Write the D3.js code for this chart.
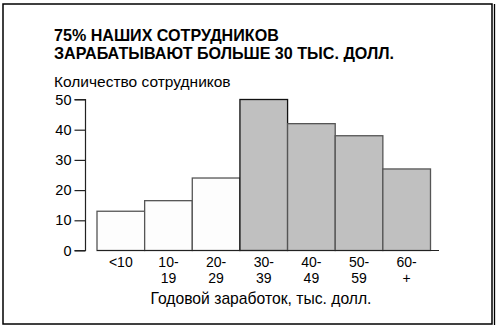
<!DOCTYPE html>
<html>
<head>
<meta charset="utf-8">
<script src="https://cdn.jsdelivr.net/npm/d3@7"></script>
<style>
  body { margin: 0; background: #fff; }
  svg text { font-family: "Liberation Sans", Arial, sans-serif; fill: #000; }
</style>
</head>
<body>
<svg id="chart" width="499" height="329"></svg>
<script>
// data
const categories = ["<10", "10-19", "20-29", "30-39", "40-49", "50-59", "60-+"]
const labelTop = ["<10", "10-", "20-", "30-", "40-", "50-", "60-"]
const labelBottom = ["", "19", "29", "39", "49", "59", "+"]
const counts = [13, 16.5, 24, 50, 42, 38, 27]
const highlighted = [false, false, false, true, true, true, true]
const yTicks = [0, 10, 20, 30, 40, 50]

const titleLines = ["75% НАШИХ СОТРУДНИКОВ", "ЗАРАБАТЫВАЮТ БОЛЬШЕ 30 ТЫС. ДОЛЛ."]
const yTitle = "Количество сотрудников"
const xTitle = "Годовой заработок, тыс. долл."

const svg = d3.select("#chart")

// frame
svg.append("rect")
  .attr("x", 3).attr("y", 4)
  .attr("width", 489).attr("height", 320)
  .attr("fill", "none").attr("stroke", "#000").attr("stroke-width", 1.5)
svg.append("line")
  .attr("x1", 494.5).attr("x2", 494.5).attr("y1", 4).attr("y2", 325)
  .attr("stroke", "#000").attr("stroke-width", 1.3)

// title
svg.append("text")
  .attr("font-size", 16.1).attr("font-weight", "bold")
  .selectAll("tspan").data(titleLines).join("tspan")
  .attr("x", 54).attr("y", (d, i) => 40.5 + i * 18.5)
  .text(d => d)

svg.append("text")
  .attr("x", 54).attr("y", 86.5)
  .attr("font-size", 15.5)
  .text(yTitle)

// scales
const x = d3.scaleBand().domain(categories).range([97, 430.5]).padding(0)
const y = d3.scaleLinear().domain([0, 50]).range([250.5, 99.5])

// y axis
const yAxis = d3.axisLeft(y).tickValues(yTicks).tickSize(11).tickPadding(3)
const gy = svg.append("g").attr("transform", "translate(85.5,0)").call(yAxis)
gy.select(".domain").attr("d", `M-11,${y(50)}H0V${y(0)}H-11`).attr("stroke", "#222").attr("stroke-width", 1.2)
gy.selectAll(".tick line").attr("stroke", "#222").attr("stroke-width", 1.2)
gy.selectAll(".tick text").attr("font-size", 14.5).attr("fill", "#000")
  .style("font-family", "'Liberation Sans', Arial, sans-serif")

// bars
svg.append("g").selectAll("rect").data(counts).join("rect")
  .attr("x", (d, i) => x(categories[i]))
  .attr("y", d => y(d))
  .attr("width", x.bandwidth())
  .attr("height", d => y(0) - y(d))
  .attr("fill", (d, i) => highlighted[i] ? "#c0c0c0" : "#fdfdfd")
  .attr("stroke", (d, i) => i === 3 ? "#111" : "#555")
  .attr("stroke-width", 1.3)

// x axis line
svg.append("line")
  .attr("x1", 97).attr("x2", 439)
  .attr("y1", y(0)).attr("y2", y(0))
  .attr("stroke", "#222").attr("stroke-width", 1.2)

// x labels
const xl = svg.append("g").selectAll("text").data(categories).join("text")
  .attr("text-anchor", "middle")
  .attr("font-size", 14)
xl.append("tspan")
  .attr("x", d => x(d) + x.bandwidth() / 2)
  .attr("y", 267)
  .text((d, i) => labelTop[i])
xl.append("tspan")
  .attr("x", d => x(d) + x.bandwidth() / 2)
  .attr("y", 282.5)
  .text((d, i) => labelBottom[i])

svg.append("text")
  .attr("x", 261).attr("y", 304)
  .attr("text-anchor", "middle")
  .attr("font-size", 15.7)
  .text(xTitle)
</script>
</body>
</html>
